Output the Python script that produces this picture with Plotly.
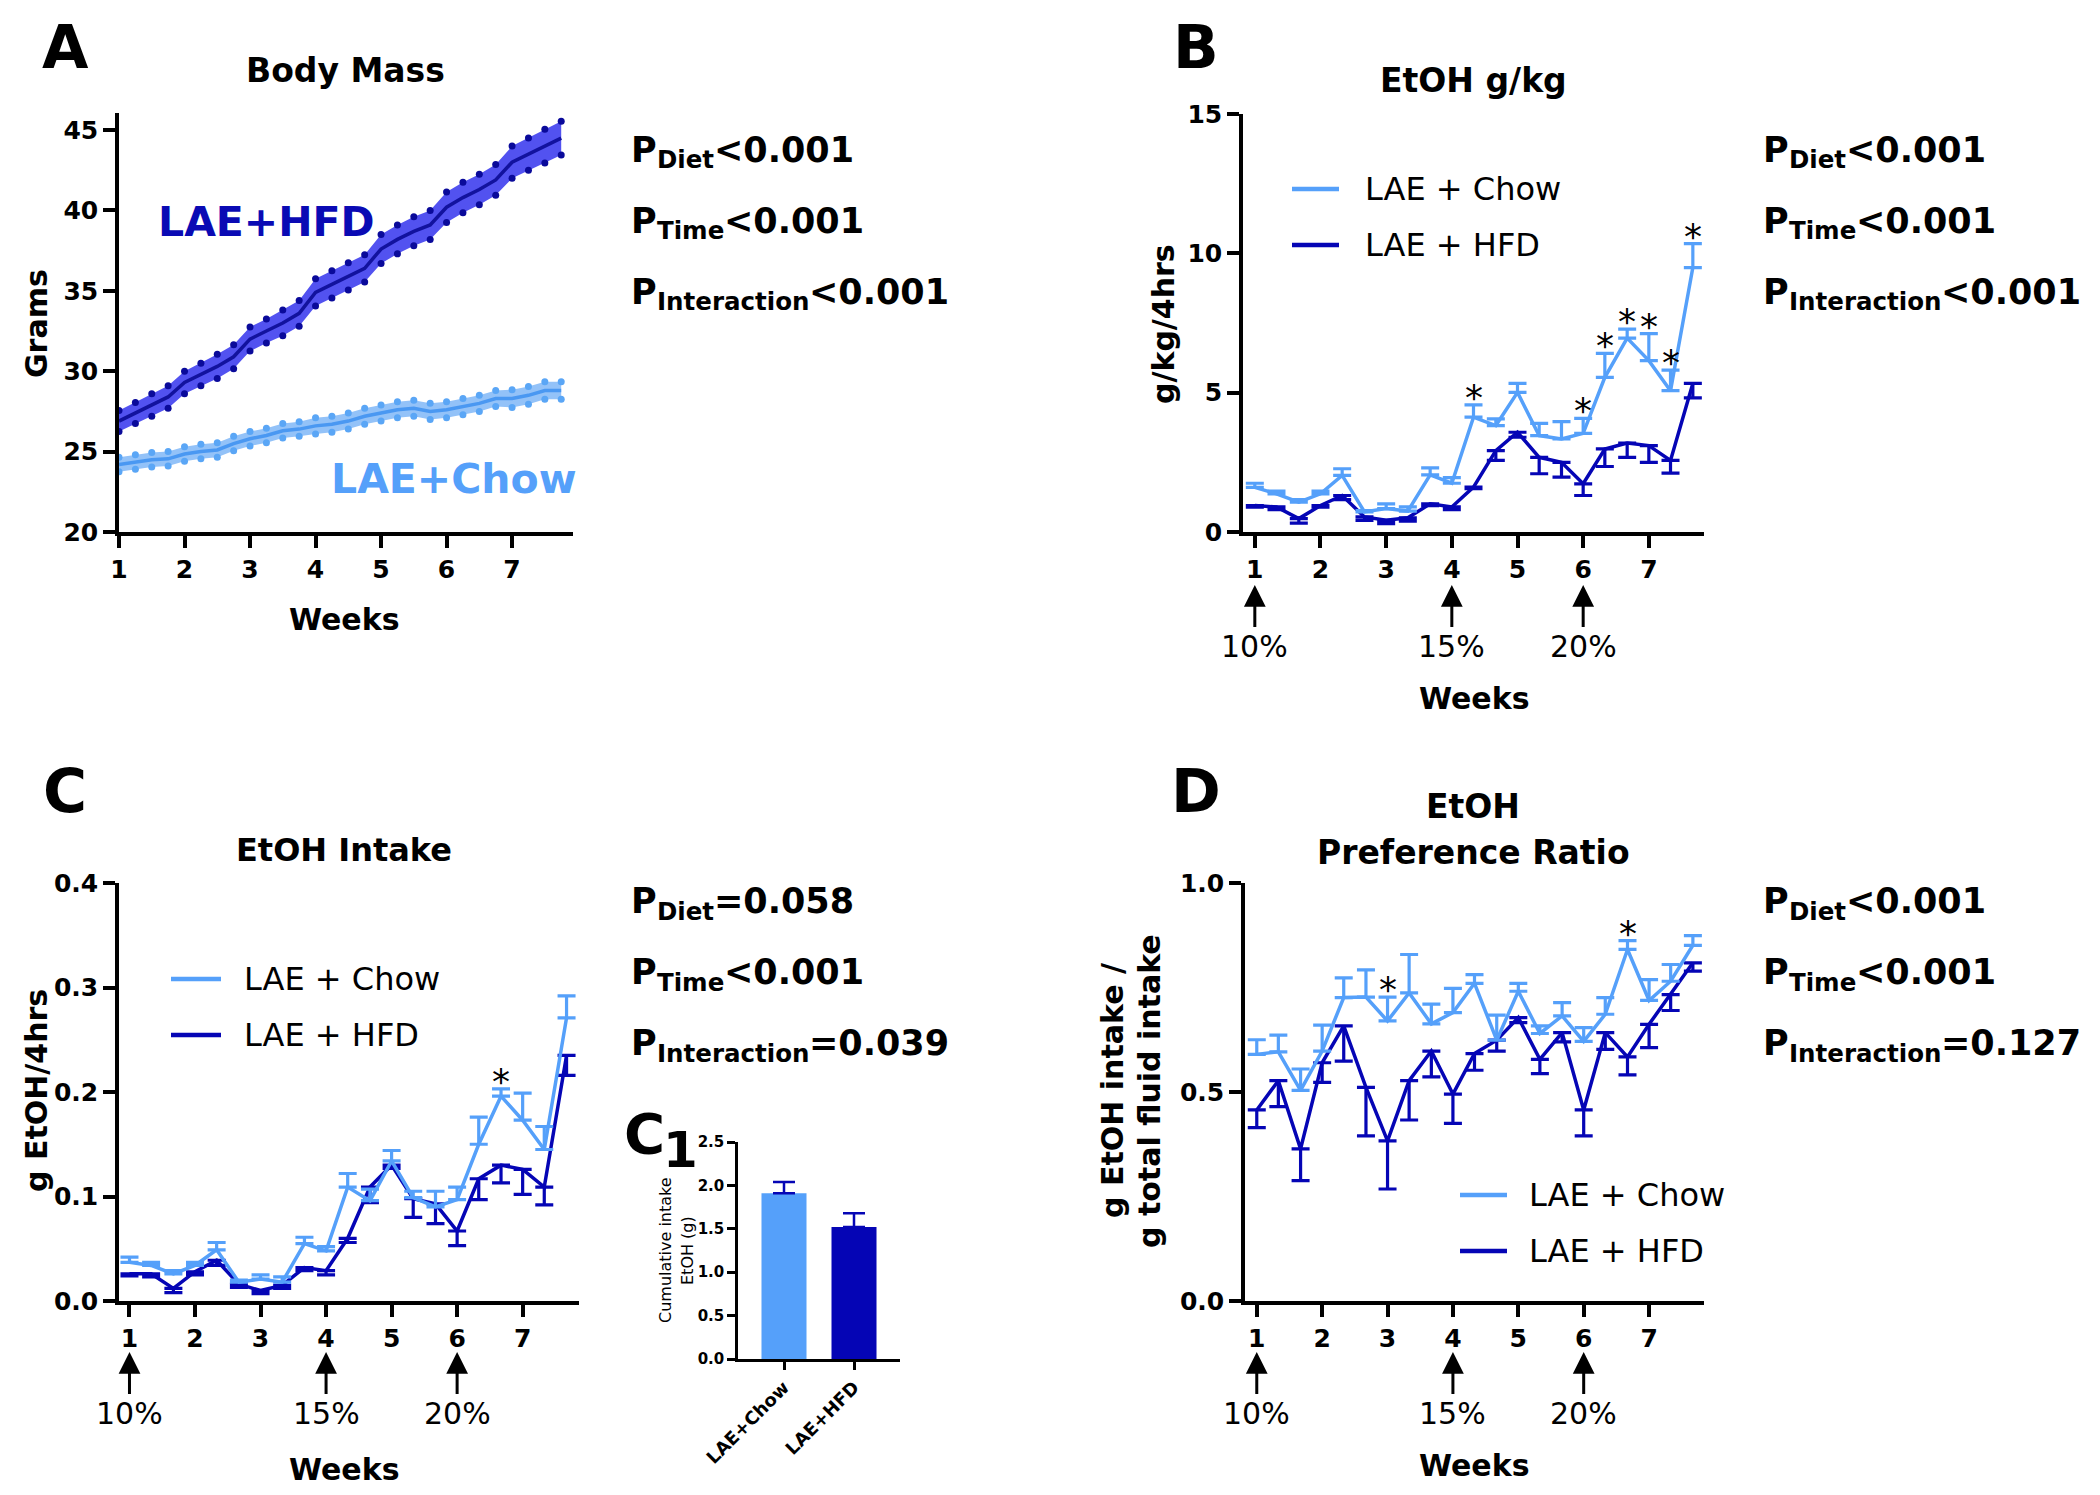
import plotly.graph_objects as go

W, H = 2100, 1495
OFF = 8  # page body margin of the browser
FONT = "DejaVu Sans, Liberation Sans, Arial, sans-serif"
CHOW = "#55A0FA"
HFD = "#0505B5"
HFD_BAND = "#5252F0"
HFD_LINE = "#12129E"
CHOW_BAND = "#93C2F8"
CHOW_LINE = "#4A98F2"

# ---------------- Panel A : body mass ----------------
bm_weeks = [1.0, 1.25, 1.5, 1.75, 2.0, 2.25, 2.5, 2.75, 3.0, 3.25, 3.5, 3.75, 4.0, 4.25,
            4.5, 4.75, 5.0, 5.25, 5.5, 5.75, 6.0, 6.25, 6.5, 6.75, 7.0, 7.25, 7.5, 7.75]
bm_hfd_mean = [26.9, 27.4, 27.9, 28.4, 29.3, 29.8, 30.3, 30.9, 32.0, 32.5, 33.0, 33.6, 34.9, 35.4,
               35.9, 36.4, 37.6, 38.2, 38.7, 39.1, 40.2, 40.8, 41.3, 41.9, 43.0, 43.5, 44.0, 44.5]
bm_hfd_sem = [0.65, 0.65, 0.7, 0.7, 0.7, 0.7, 0.75, 0.75, 0.75, 0.75, 0.8, 0.8, 0.85, 0.85,
              0.85, 0.85, 0.9, 0.9, 0.9, 0.9, 0.95, 0.95, 0.95, 0.95, 1.0, 1.0, 1.05, 1.05]
bm_chow_mean = [24.2, 24.35, 24.5, 24.55, 24.85, 25.0, 25.1, 25.5, 25.8, 26.0, 26.3, 26.4, 26.6, 26.7,
                26.9, 27.2, 27.4, 27.6, 27.7, 27.5, 27.6, 27.8, 28.0, 28.3, 28.3, 28.5, 28.8, 28.8]
bm_chow_sem = [0.45, 0.45, 0.45, 0.45, 0.45, 0.45, 0.45, 0.45, 0.45, 0.45, 0.45, 0.45, 0.5, 0.5,
               0.5, 0.5, 0.5, 0.5, 0.5, 0.5, 0.5, 0.5, 0.5, 0.5, 0.55, 0.55, 0.55, 0.55]

# ---------------- Sessions (panels B, C, D) ----------------
sess_weeks = [1.0, 1.33, 1.67, 2.0, 2.33, 2.67, 3.0, 3.33, 3.67, 4.0, 4.33, 4.67, 5.0, 5.33,
              5.67, 6.0, 6.33, 6.67, 7.0, 7.33, 7.67]

# Panel B : EtOH g/kg
gkg_chow_mean = [1.60, 1.37, 1.07, 1.37, 2.03, 0.72, 0.84, 0.75, 2.05, 1.75, 4.12, 3.82, 5.01, 3.46,
                 3.34, 3.54, 5.55, 6.96, 6.15, 5.07, 9.49]
gkg_chow_sem = [0.15, 0.10, 0.09, 0.10, 0.24, 0.05, 0.17, 0.15, 0.25, 0.20, 0.44, 0.24, 0.32, 0.44,
                0.62, 0.54, 0.86, 0.32, 0.97, 0.74, 0.86]
gkg_hfd_mean = [0.95, 0.90, 0.48, 0.95, 1.31, 0.54, 0.42, 0.51, 1.01, 0.90, 1.61, 2.92, 3.58, 2.68,
                2.50, 1.73, 2.98, 3.19, 3.10, 2.57, 5.33]
gkg_hfd_sem = [0.06, 0.10, 0.16, 0.06, 0.15, 0.12, 0.12, 0.12, 0.06, 0.10, 0.05, 0.35, 0.18, 0.59,
               0.53, 0.42, 0.63, 0.51, 0.60, 0.46, 0.52]
gkg_sig = [10, 15, 16, 17, 18, 19, 20]

# Panel C : EtOH intake
int_chow_mean = [0.037, 0.034, 0.026, 0.034, 0.049, 0.018, 0.021, 0.018, 0.055, 0.048, 0.109, 0.096,
                 0.134, 0.099, 0.090, 0.097, 0.150, 0.196, 0.173, 0.145, 0.271]
int_chow_sem = [0.005, 0.003, 0.003, 0.003, 0.007, 0.002, 0.004, 0.005, 0.006, 0.004, 0.013, 0.011,
                0.010, 0.006, 0.015, 0.012, 0.026, 0.007, 0.026, 0.022, 0.021]
int_hfd_mean = [0.026, 0.026, 0.012, 0.028, 0.039, 0.016, 0.010, 0.015, 0.032, 0.029, 0.060, 0.109,
                0.130, 0.098, 0.093, 0.067, 0.117, 0.130, 0.126, 0.109, 0.235]
int_hfd_sem = [0.002, 0.003, 0.004, 0.003, 0.005, 0.003, 0.003, 0.003, 0.003, 0.004, 0.004, 0.015,
               0.003, 0.018, 0.019, 0.014, 0.020, 0.017, 0.024, 0.017, 0.019]
int_sig = [17]

# Panel C1 : cumulative intake
cum_groups = ["LAE+Chow", "LAE+HFD"]
cum_mean = [1.91, 1.52]
cum_sem = [0.13, 0.16]

# Panel D : preference ratio
pref_chow_mean = [0.590, 0.596, 0.504, 0.598, 0.726, 0.727, 0.670, 0.737, 0.663, 0.690, 0.760, 0.624,
                  0.741, 0.640, 0.682, 0.621, 0.686, 0.841, 0.719, 0.765, 0.851]
pref_chow_sem = [0.035, 0.040, 0.051, 0.062, 0.047, 0.065, 0.057, 0.092, 0.047, 0.058, 0.021, 0.060,
                 0.019, 0.018, 0.032, 0.033, 0.040, 0.021, 0.050, 0.040, 0.023]
pref_hfd_mean = [0.457, 0.527, 0.364, 0.570, 0.658, 0.511, 0.383, 0.527, 0.598, 0.495, 0.592, 0.624,
                 0.678, 0.578, 0.642, 0.457, 0.642, 0.584, 0.662, 0.733, 0.809]
pref_hfd_sem = [0.042, 0.062, 0.076, 0.047, 0.084, 0.116, 0.115, 0.094, 0.062, 0.070, 0.040, 0.026,
                0.012, 0.034, 0.022, 0.062, 0.040, 0.043, 0.056, 0.038, 0.020]
pref_sig = [6, 17]

week_ticks = [1, 2, 3, 4, 5, 6, 7]
conc_weeks = [1, 4, 6]
conc_labels = ["10%", "15%", "20%"]
pvals_A = ["&lt;0.001", "&lt;0.001", "&lt;0.001"]
pvals_B = ["&lt;0.001", "&lt;0.001", "&lt;0.001"]
pvals_C = ["=0.058", "&lt;0.001", "=0.039"]
pvals_D = ["&lt;0.001", "&lt;0.001", "=0.127"]
p_terms = ["Diet", "Time", "Interaction"]

# advance widths (em) of DejaVu Sans Bold glyphs used to place subscripts
BOLD_W = {"P": 0.733, "D": 0.830, "i": 0.343, "e": 0.678, "t": 0.478, "T": 0.682, "m": 1.042,
          "I": 0.372, "n": 0.712, "r": 0.493, "a": 0.675, "c": 0.593, "o": 0.687}


def px(x):
    return (x - OFF) / W


def py(y):
    return 1 - (y - OFF) / H


fig = go.Figure()


def band(xs, mean, sem, band_col, line_col, dot_col, ax):
    lo = [m - s for m, s in zip(mean, sem)]
    hi = [m + s for m, s in zip(mean, sem)]
    fig.add_trace(go.Scatter(x=xs, y=lo, mode="lines+markers", line=dict(width=0, color=band_col),
                             marker=dict(size=7, color=dot_col), showlegend=False,
                             xaxis=ax[0], yaxis=ax[1]))
    fig.add_trace(go.Scatter(x=xs, y=hi, mode="lines+markers", line=dict(width=0, color=band_col),
                             marker=dict(size=7, color=dot_col), fill="tonexty", fillcolor=band_col,
                             showlegend=False, xaxis=ax[0], yaxis=ax[1]))
    fig.add_trace(go.Scatter(x=xs, y=mean, mode="lines", line=dict(width=3.5, color=line_col),
                             showlegend=False, xaxis=ax[0], yaxis=ax[1]))


band(bm_weeks, bm_chow_mean, bm_chow_sem, CHOW_BAND, CHOW_LINE, "#5AA6F6", ("x", "y"))
band(bm_weeks, bm_hfd_mean, bm_hfd_sem, HFD_BAND, HFD_LINE, "#0A0A9A", ("x", "y"))


def series(mean, sem, col, up, ax):
    zeros = [0 for _ in sem]
    err = dict(type="data", symmetric=False, array=sem if up else zeros,
               arrayminus=zeros if up else sem, color=col, thickness=3.2, width=9)
    fig.add_trace(go.Scatter(x=sess_weeks, y=mean, mode="lines", line=dict(width=3.5, color=col),
                             error_y=err, showlegend=False, xaxis=ax[0], yaxis=ax[1]))


for ax, cm, cs, hm, hs in [(("x2", "y2"), gkg_chow_mean, gkg_chow_sem, gkg_hfd_mean, gkg_hfd_sem),
                           (("x3", "y3"), int_chow_mean, int_chow_sem, int_hfd_mean, int_hfd_sem),
                           (("x5", "y5"), pref_chow_mean, pref_chow_sem, pref_hfd_mean, pref_hfd_sem)]:
    series(hm, hs, HFD, False, ax)
    series(cm, cs, CHOW, True, ax)

fig.add_trace(go.Bar(x=cum_groups, y=cum_mean, marker=dict(color=[CHOW, HFD], line=dict(width=0)),
                     width=0.643,
                     error_y=dict(type="data", symmetric=False, array=cum_sem, arrayminus=[0, 0],
                                  color=HFD, thickness=2.5, width=11),
                     showlegend=False, xaxis="x4", yaxis="y4"))

TICKFONT = dict(family=FONT, size=25, color="black", weight="bold")


def axstyle(**kw):
    d = dict(showline=True, linewidth=3.5, linecolor="black", ticks="outside", ticklen=12,
             tickwidth=3.5, tickcolor="black", showgrid=False, zeroline=False, mirror=False,
             automargin=False, tickfont=TICKFONT)
    d.update(kw)
    return d


SMALLFONT = dict(family=FONT, size=15, color="black", weight="bold")
CATFONT = dict(family=FONT, size=18, color="black", weight="bold")
lay = dict(
    xaxis=axstyle(domain=[px(119), px(573)], range=[1, 7.93], tickvals=week_ticks, anchor="y"),
    yaxis=axstyle(domain=[py(532), py(113)], range=[20, 46.06], tickvals=[20, 25, 30, 35, 40, 45],
                  anchor="x"),
    xaxis2=axstyle(domain=[px(1243), px(1704)], range=[0.82, 7.84], tickvals=week_ticks, anchor="y2"),
    yaxis2=axstyle(domain=[py(532), py(114)], range=[0, 15], tickvals=[0, 5, 10, 15], anchor="x2"),
    xaxis3=axstyle(domain=[px(119), px(579)], range=[0.84, 7.86], tickvals=week_ticks, anchor="y3"),
    yaxis3=axstyle(domain=[py(1301), py(883)], range=[0, 0.4], tickvals=[0, 0.1, 0.2, 0.3, 0.4],
                   tickformat=".1f", anchor="x3"),
    xaxis4=axstyle(domain=[px(738), px(900)], range=[-0.657, 1.657], type="category", tickangle=-45,
                   ticklen=8, tickwidth=2.5, linewidth=2.5, tickfont=CATFONT, anchor="y4"),
    yaxis4=axstyle(domain=[py(1359), py(1142)], range=[0, 2.5], tickvals=[0, 0.5, 1.0, 1.5, 2.0, 2.5],
                   tickformat=".1f", ticklen=8, tickwidth=2.5, linewidth=2.5, tickfont=SMALLFONT,
                   anchor="x4"),
    xaxis5=axstyle(domain=[px(1245), px(1704)], range=[0.82, 7.84], tickvals=week_ticks, anchor="y5"),
    yaxis5=axstyle(domain=[py(1301), py(883)], range=[0, 1.0], tickvals=[0, 0.5, 1.0],
                   tickformat=".1f", anchor="x5"),
)

annotations = []
shapes = []


def txt(x, y, s, size, bold=True, color="black", xanchor="center", yanchor="middle", angle=0):
    annotations.append(dict(x=px(x), y=py(y), xref="paper", yref="paper", text=s, showarrow=False,
                            xanchor=xanchor, yanchor=yanchor, textangle=angle,
                            font=dict(family=FONT, size=size, color=color,
                                      weight="bold" if bold else "normal")))


for letter, (x, y) in zip("ABCD", [(65, 47), (1196, 47), (65, 791), (1196, 791)]):
    txt(x, y, letter, 60)
txt(644, 1133, "C", 56)
txt(680, 1150, "1", 50)

txt(345, 70, "Body Mass", 33)
txt(1473, 80, "EtOH g/kg", 33)
txt(344, 850, "EtOH Intake", 32)
txt(1473, 806, "EtOH", 33)
txt(1473, 853, "Preference Ratio", 33)

txt(36, 324, "Grams", 30, angle=-90)
txt(344, 619, "Weeks", 30)
txt(1163, 324, "g/kg/4hrs", 30, angle=-90)
txt(1474, 698, "Weeks", 30)
txt(36, 1091, "g EtOH/4hrs", 30, angle=-90)
txt(344, 1469, "Weeks", 30)
txt(1112, 1091, "g EtOH intake /", 30, angle=-90)
txt(1149, 1091, "g total fluid intake", 30, angle=-90)
txt(1474, 1465, "Weeks", 30)
txt(665, 1250, "Cumulative intake", 16, bold=False, angle=-90)
txt(687, 1250, "EtOH (g)", 16, bold=False, angle=-90)

txt(266, 222, "LAE+HFD", 41, color="#0A0AB4")
txt(454, 479, "LAE+Chow", 41, color=CHOW)

P_SIZE, SUB_SIZE = 35, 24.5
for (x0, ys, vals) in [(629, [150, 221, 292], pvals_A), (1761, [150, 221, 292], pvals_B),
                       (629, [901, 972, 1043], pvals_C), (1761, [901, 972, 1043], pvals_D)]:
    for term, yy, v in zip(p_terms, ys, vals):
        w_p = BOLD_W["P"] * P_SIZE
        w_sub = sum(BOLD_W[c] for c in term) * SUB_SIZE
        txt(x0, yy, "P", P_SIZE, xanchor="left")
        txt(x0 + w_p, yy + 10, term, SUB_SIZE, xanchor="left")
        txt(x0 + w_p + w_sub, yy, v, P_SIZE, xanchor="left")

for (lx0, lx1, tx, ys) in [(1292, 1339, 1363, [189, 245]), (171, 221, 242, [979, 1035]),
                           (1460, 1507, 1527, [1195, 1251])]:
    for col, lab, yy in zip([CHOW, HFD], ["LAE + Chow", "LAE + HFD"], ys):
        shapes.append(dict(type="line", xref="paper", yref="paper", x0=px(lx0), x1=px(lx1),
                           y0=py(yy), y1=py(yy), line=dict(color=col, width=4.5)))
        txt(tx, yy, lab, 32, bold=False, xanchor="left")

for xa, tip, lab_y in [("x2", 585, 646), ("x3", 1352, 1413), ("x5", 1352, 1413)]:
    for wk, lab in zip(conc_weeks, conc_labels):
        annotations.append(dict(x=wk, xref=xa, y=py(tip), yref="paper", text=lab, showarrow=True,
                                ax=0, ay=lab_y - tip, arrowhead=2, arrowsize=1.45, arrowwidth=3,
                                arrowcolor="black",
                                font=dict(family=FONT, size=30, color="black")))

for xa, ya, idxs, mean, sem in [("x2", "y2", gkg_sig, gkg_chow_mean, gkg_chow_sem),
                                ("x3", "y3", int_sig, int_chow_mean, int_chow_sem),
                                ("x5", "y5", pref_sig, pref_chow_mean, pref_chow_sem)]:
    for i in idxs:
        annotations.append(dict(x=sess_weeks[i], y=mean[i] + sem[i], xref=xa, yref=ya, text="*",
                                showarrow=False, yanchor="bottom", yshift=-15,
                                font=dict(family=FONT, size=36, color="black")))

fig.update_layout(
    width=W, height=H, margin=dict(l=0, r=0, t=0, b=0, autoexpand=False),
    paper_bgcolor="white", plot_bgcolor="white", showlegend=False,
    annotations=annotations, shapes=shapes, font=dict(family=FONT), **lay,
)

fig.write_html("out.html")
